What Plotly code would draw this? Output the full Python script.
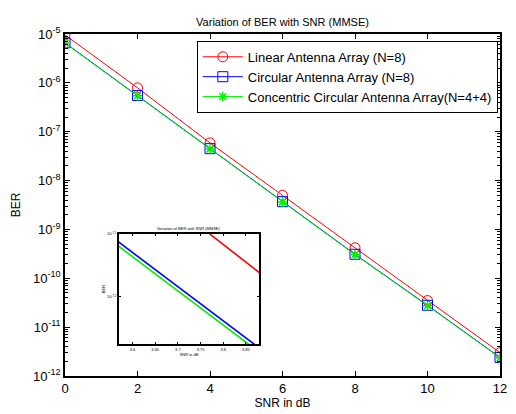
import plotly.graph_objects as go

snr = [0, 2, 4, 6, 8, 10, 12]
ber_linear = [9.6e-6, 7.9e-7, 5.9e-8, 5.0e-9, 4.2e-10, 3.5e-11, 3.0e-12]
ber_circular = [6.6e-6, 5.5e-7, 4.5e-8, 3.7e-9, 3.1e-10, 2.8e-11, 2.4e-12]
ber_concentric = [6.5e-6, 5.42e-7, 4.43e-8, 3.65e-9, 3.05e-10, 2.75e-11, 2.36e-12]

names = ["Linear Antenna Array (N=8)", "Circular Antenna Array (N=8)",
         "Concentric Circular Antenna Array(N=4+4)"]
y_tick_exps = [-5, -6, -7, -8, -9, -10, -11, -12]
x_ticks = [0, 2, 4, 6, 8, 10, 12]
inset_x_ticks = [3.6, 3.65, 3.7, 3.75, 3.8, 3.85]
inset_y_exps = [-7.1, -7.2]

RED, BLUE, GREEN = "#ff0000", "#0000ff", "#00f000"
FONT = "Arial, Liberation Sans, sans-serif"

fig = go.Figure()
series = [(ber_linear, RED, dict(symbol="circle-open", size=10, color=RED, line=dict(width=1, color=RED))),
          (ber_circular, BLUE, dict(symbol="square-open", size=10, color=BLUE, line=dict(width=1, color=BLUE))),
          (ber_concentric, GREEN, dict(symbol="asterisk-open", size=8, color=GREEN, line=dict(width=1.5, color=GREEN)))]
for (vals, col, mk), nm in zip(series, names):
    fig.add_trace(go.Scatter(x=snr, y=vals, mode="lines+markers", name=nm,
                             line=dict(color=col, width=1), marker=mk,
                             legendgroup="main", xaxis="x", yaxis="y"))
for vals, col, mk in series:
    fig.add_trace(go.Scatter(x=snr, y=vals, mode="lines", showlegend=False,
                             line=dict(color=col, width=1.6), xaxis="x2", yaxis="y2",
                             cliponaxis=True))

fig.update_layout(
    width=516, height=414,
    margin=dict(l=65, r=16, t=34, b=38),
    paper_bgcolor="white", plot_bgcolor="white",
    font=dict(family=FONT, color="black", size=12),
    title=dict(text="Variation of BER with SNR (MMSE)", x=0.5, xref="paper",
               y=0.955, yref="container", xanchor="center",
               font=dict(size=11, family=FONT)),
    showlegend=True,
    legend=dict(x=0.995, y=0.98, xanchor="right", yanchor="top",
                bordercolor="black", borderwidth=1, bgcolor="white",
                font=dict(size=13, family=FONT), tracegroupgap=0,
                itemwidth=40),
    xaxis=dict(domain=[0, 1], range=[0, 12], tickvals=x_ticks, automargin=False,
               ticktext=[str(v) for v in x_ticks],
               ticks="inside", ticklen=5, tickwidth=1, tickcolor="black",
               showline=True, linecolor="black", linewidth=1.5, mirror="allticks",
               showgrid=False, zeroline=False,
               tickfont=dict(size=13), title=dict(text="SNR in dB", font=dict(size=12), standoff=0)),
    yaxis=dict(domain=[0, 1], type="log", range=[-12, -5], automargin=False,
               tickvals=[10.0 ** e for e in y_tick_exps],
               ticktext=["10<sup>%d</sup>" % e for e in y_tick_exps],
               ticks="inside", ticklen=5, tickwidth=1, tickcolor="black",
               minor=dict(ticks="inside", ticklen=3, tickcolor="black", showgrid=False,
                          tickvals=[m * 10.0 ** e for e in range(-12, -5) for m in range(2, 10)]),
               showline=True, linecolor="black", linewidth=1.5, mirror="allticks",
               showgrid=False, zeroline=False,
               tickfont=dict(size=13), title=dict(text="BER", font=dict(size=12), standoff=10)),
    xaxis2=dict(domain=[0.124, 0.446], range=[3.57, 3.879], anchor="y2", automargin=False,
                tickvals=inset_x_ticks, ticktext=[str(v) for v in inset_x_ticks],
                ticks="inside", ticklen=2, tickcolor="black",
                showline=True, linecolor="black", linewidth=1.5, mirror="allticks",
                showgrid=False, zeroline=False, tickfont=dict(size=4),
                title=dict(text="SNR in dB", font=dict(size=4), standoff=2)),
    yaxis2=dict(domain=[0.0936, 0.415], type="log", range=[-7.275, -7.1], anchor="x2",
                automargin=False,
                tickvals=[10.0 ** e for e in inset_y_exps],
                ticktext=["10<sup>%s</sup>" % e for e in inset_y_exps],
                ticks="inside", ticklen=2, tickcolor="black",
                showline=True, linecolor="black", linewidth=1.5, mirror="allticks",
                showgrid=False, zeroline=False, tickfont=dict(size=4),
                title=dict(text="BER", font=dict(size=4), standoff=2)),
    annotations=[dict(text="Variation of BER with SNR (MMSE)", x=0.285, y=0.415,
                      xref="paper", yref="paper", xanchor="center", yanchor="bottom",
                      showarrow=False, font=dict(size=4, family=FONT), yshift=1)],
)

fig.write_html("out.html", config={"displayModeBar": False},
               post_script="document.body.style.margin='0';document.body.style.overflow='hidden';")
